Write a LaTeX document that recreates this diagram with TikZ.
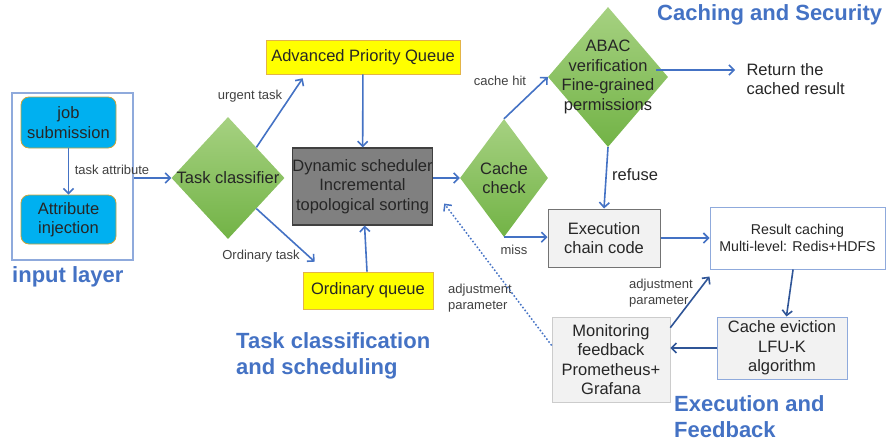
\documentclass[tikz,border=0pt]{standalone}
\usepackage{fontspec}
\setmainfont{Liberation Sans}
\usepackage{tikz}
\usepackage{xcolor}
\usetikzlibrary{positioning, shapes.geometric, arrows.meta}

\definecolor{arrblue}{HTML}{4472C4}
\definecolor{darkblue}{HTML}{2F5597}
\definecolor{headblue}{HTML}{4472C4}
\definecolor{lineblue}{HTML}{8FAADC}
\definecolor{cyanbox}{HTML}{00B0F0}
\definecolor{goldline}{HTML}{C9A43A}
\definecolor{qyellow}{HTML}{FFFF00}
\definecolor{qline}{HTML}{E3B448}
\definecolor{greenlt}{HTML}{A6D181}
\definecolor{greendk}{HTML}{72B346}
\definecolor{boxgray}{HTML}{F2F2F2}

\tikzset{
    arr/.style={draw=arrblue, line width=1.6pt, -{Straight Barb[length=5pt,width=10pt]}},
    darr/.style={arr, draw=darkblue},
    txt/.style={font=\fontsize{16.5}{19.5}\selectfont, align=center, text=black!85},
    lbl/.style={font=\fontsize{13}{16}\selectfont, text=black!75, inner sep=0pt, align=left},
    heading/.style={font=\fontsize{22}{26}\selectfont\bfseries, text=headblue, align=left, inner sep=0pt, anchor=west},
    dia/.style={diamond, inner sep=0pt, top color=greenlt, bottom color=greendk, draw=none},
    jobbox/.style={txt, rounded corners=8pt, fill=cyanbox, draw=goldline, line width=0.8pt, minimum width=95pt},
    qbox/.style={txt, fill=qyellow, draw=qline, line width=0.6pt, inner sep=0pt},
    graybox/.style={txt, fill=boxgray, line width=1pt, inner sep=2pt},
}

\begin{document}
\begin{tikzpicture}[x=1pt, y=-1pt]
    \useasboundingbox (0,0) rectangle (890,444);

    % Input layer
    \node[draw=lineblue, line width=1.2pt, minimum width=121pt, minimum height=167pt] (inbox) at (72.5,176.5) {};
    \node[jobbox, minimum height=51pt] (job) at (68.5,122.5) {job\\submission};
    \node[jobbox, minimum height=49pt] (attr) at (68.5,219.5) {Attribute\\injection};
    \node[heading] (inhead) at (12,277) {input layer};
    \draw[arr] (job) -- (attr);
    \node[lbl] (tattr) at (112,170) {task attribute};

    % Task classification and scheduling
    \node[dia, minimum width=113pt, minimum height=122pt, label={[txt]center:Task classifier}] (cls) at (228,178) {};
    \node[qbox, minimum width=194pt, minimum height=34pt] (apq) at (363,57) {Advanced Priority Queue};
    \node[txt, fill=black!50, draw=black!75, line width=1.2pt, inner sep=0pt, minimum width=137pt, minimum height=77pt] (sched) at (362.5,186.5) {Dynamic scheduler\\Incremental\\topological sorting};
    \node[qbox, minimum width=130pt, minimum height=37pt] (oq) at (368,290.5) {Ordinary queue};
    \node[heading] (taskhead) at (236,356) {Task classification\\and scheduling};
    \node[lbl] (urg) at (250,96) {urgent task};
    \node[lbl] (ordt) at (261,256) {Ordinary task};

    \draw[arr] (inbox.east |- cls) -- (cls.west);
    \draw[arr] (cls.north east) -- ([xshift=37pt,yshift=-4pt]apq.south west);
    \draw[arr] (cls.south east) -- ([xshift=12pt,yshift=10pt]oq.north west);
    \draw[arr] (apq) -- (sched);
    \draw[arr] (oq) -- (sched);

    % Caching and Security
    \node[dia, minimum width=88pt, minimum height=118pt, label={[txt]center:Cache\\check}] (cache) at (504,178) {};
    \node[dia, minimum width=120pt, minimum height=140pt, label={[txt]center:ABAC\\verification\\Fine-grained\\permissions}] (abac) at (608,77) {};
    \node[txt, align=left, anchor=west] (ret) at (743,79) {Return the\\cached result};
    \node[heading] (cachehead) at (657,15) {Caching and Security};
    \node[lbl] (hit) at (500,81) {cache hit};
    \node[lbl] (miss) at (514,250) {miss};
    \node[txt, inner sep=0pt] (refuse) at (635,175) {refuse};

    \draw[arr] (sched.east |- cache) -- (cache.west);
    \draw[arr] (cache.north) -- (abac.west);
    \draw[arr] ([xshift=48pt,yshift=7pt]abac.center) -- ([xshift=-8pt,yshift=9pt]ret.west);

    % Execution and Feedback
    \node[graybox, draw=black!55, minimum width=112pt, minimum height=58pt] (exec) at (604,238) {Execution\\chain code};
    \node[graybox, fill=white, draw=lineblue, font=\fontsize{14.2}{17}\selectfont, minimum width=175pt, minimum height=62pt] (res) at (797.5,238) {Result caching\\Multi-level: Redis+HDFS};
    \node[graybox, draw=lineblue, minimum width=130pt, minimum height=62pt] (evic) at (782,348) {Cache eviction\\LFU-K\\algorithm};
    \node[graybox, draw=black!20, line width=0.6pt, minimum width=118pt, minimum height=85pt] (mon) at (611,359.5) {Monitoring\\feedback\\Prometheus+\\Grafana};
    \node[heading] (exechead) at (674,417) {Execution and\\Feedback};
    \node[lbl] (adjl) at (480,298) {adjustment\\parameter};
    \node[lbl] (adjr) at (661,293) {adjustment\\parameter};

    \draw[arr] (abac.south) -- (exec.north);
    \draw[arr] (cache.south) -- (cache.south -| exec.west);
    \draw[arr] (exec) -- (res);
    \draw[darr] (res) -- (evic);
    \draw[darr] (evic.west) -- (evic.west -| mon.east);
    \draw[darr] ([yshift=-11pt]mon.north east) -- ([yshift=-7pt]res.south west);
    \draw[arr, dotted, line width=1.5pt] ([yshift=14pt]mon.west) -- ([xshift=11pt,yshift=22pt]sched.south east);
\end{tikzpicture}
\end{document}
